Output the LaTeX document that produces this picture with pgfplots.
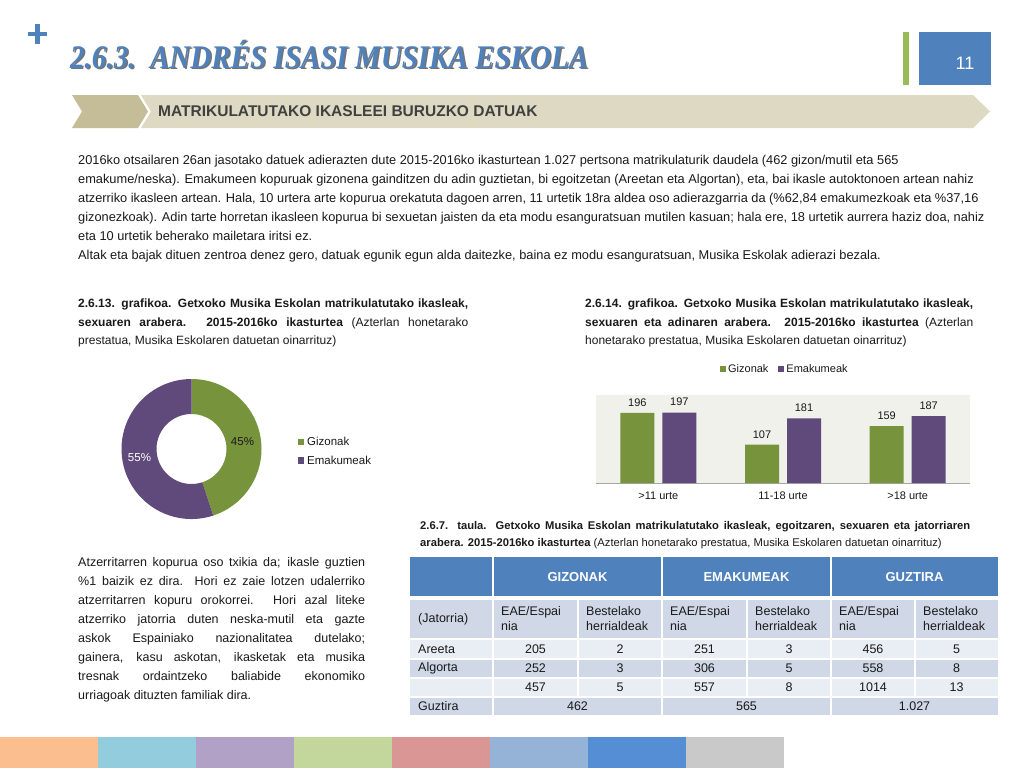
\documentclass[border=0pt]{standalone}
\usepackage{pgfplots}
\pgfplotsset{compat=1.18}
\usepackage{fontspec}
\setmainfont{Liberation Sans}
\newfontfamily\titlefont[FakeStretch=0.88]{Liberation Serif}
\definecolor{gz}{HTML}{77933C}
\definecolor{em}{HTML}{604A7B}
\definecolor{tblue}{HTML}{4F81BD}
\definecolor{lgreen}{HTML}{9BBB59}
\definecolor{chev}{HTML}{C4BD97}
\definecolor{hbar}{HTML}{DDD9C3}
\definecolor{chartbg}{HTML}{EFF1EA}
\definecolor{rowA}{HTML}{D0D8E8}
\definecolor{rowB}{HTML}{E9EDF4}
\definecolor{txt}{HTML}{1A1A1A}
\pgfplotsset{/pgf/number format/assume math mode=true}
\newcommand\fs[2]{\fontsize{#1}{#2}\selectfont}
\newcommand\titletext{\titlefont\bfseries\itshape\fs{33}{33}2.6.3.\ \ ANDRÉS ISASI MUSIKA ESKOLA}
\hyphenpenalty=10000
\exhyphenpenalty=10000
\tolerance=9999
\emergencystretch=20pt
\begin{document}
\begin{tikzpicture}[x=1pt,y=1pt]
\path[use as bounding box] (0,0) rectangle (1024,-768);
\fill[white] (0,0) rectangle (1024,-768);
% plus sign
\draw[tblue, line width=4.5pt] (28,-34) -- (47,-34) (37.5,-24) -- (37.5,-44);
% title
\node[anchor=base west, inner sep=0, text=black!55] at (71.5,-69.5) {\titletext};
\node[anchor=base west, inner sep=0, text=tblue] at (70,-68) {\titletext};
% page number box
\fill[lgreen] (903,-32) rectangle (909,-85);
\fill[tblue] (919,-32) rectangle (991,-85);
\node[text=white, font=\fs{18}{18}] at (965,-63) {11};
% chevron header
\fill[chev] (72,-95) -- (138,-95) -- (148,-111.5) -- (138,-128) -- (72,-128) -- (82,-111.5) -- cycle;
\fill[hbar] (141,-95) -- (973,-95) -- (990,-111.5) -- (973,-128) -- (141,-128) -- (151,-111.5) -- cycle;
\node[anchor=west, inner sep=0, text=black!75, font=\bfseries\fs{15.5}{15.5}] at (158,-111) {MATRIKULATUTAKO IKASLEEI BURUZKO DATUAK};
% intro paragraph
\begin{scope}[every node/.style={anchor=base west, inner sep=0, text=txt, font=\fs{12.8}{19}}]
\node at (78,-164) {2016ko otsailaren 26an jasotako datuek adierazten dute 2015-2016ko ikasturtean 1.027 pertsona matrikulaturik daudela (462 gizon/mutil eta 565};
\node at (78,-183) {emakume/neska). Emakumeen kopuruak gizonena gainditzen du adin guztietan, bi egoitzetan (Areetan eta Algortan), eta, bai ikasle autoktonoen artean nahiz};
\node at (78,-202) {atzerriko ikasleen artean. Hala, 10 urtera arte kopurua orekatuta dagoen arren, 11 urtetik 18ra aldea oso adierazgarria da (\%62,84 emakumezkoak eta \%37,16};
\node at (78,-221) {gizonezkoak). Adin tarte horretan ikasleen kopurua bi sexuetan jaisten da eta modu esanguratsuan mutilen kasuan; hala ere, 18 urtetik aurrera haziz doa, nahiz};
\node at (78,-240) {eta 10 urtetik beherako mailetara iritsi ez.};
\node at (78,-259) {Altak eta bajak dituen zentroa denez gero, datuak egunik egun alda daitezke, baina ez modu esanguratsuan, Musika Eskolak adierazi bezala.};
\end{scope}
% captions
\node[anchor=north west, inner sep=0, text width=390pt, align=justify, text=txt, font=\fs{12}{18.5}] at (78,-299)
 {{\bfseries 2.6.13. grafikoa. Getxoko Musika Eskolan matrikulatutako ikasleak,\linebreak sexuaren arabera. 2015-2016ko ikasturtea} (Azterlan honetarako\linebreak prestatua, Musika Eskolaren datuetan oinarrituz)};
\node[anchor=north west, inner sep=0, text width=388pt, align=justify, text=txt, font=\fs{12}{18.5}] at (585,-299)
 {{\bfseries 2.6.14. grafikoa. Getxoko Musika Eskolan matrikulatutako ikasleak,\linebreak sexuaren eta adinaren arabera. 2015-2016ko ikasturtea} (Azterlan\linebreak honetarako prestatua, Musika Eskolaren datuetan oinarrituz)};
\node[anchor=north west, inner sep=0, text width=550pt, align=justify, text=txt, font=\fs{11.2}{17}] at (420,-521)
 {{\bfseries 2.6.7. taula. Getxoko Musika Eskolan matrikulatutako ikasleak, egoitzaren, sexuaren eta jatorriaren\linebreak arabera. 2015-2016ko ikasturtea} (Azterlan honetarako prestatua, Musika Eskolaren datuetan oinarrituz)};
\node[anchor=north west, inner sep=0, text width=287pt, align=justify, text=txt, font=\fs{12.5}{19}] at (78,-557)
 {Atzerritarren kopurua oso txikia da; ikasle guztien\linebreak \%1 baizik ez dira. Hori ez zaie lotzen udalerriko\linebreak atzerritarren kopuru orokorrei. Hori azal liteke\linebreak atzerriko jatorria duten neska-mutil eta gazte\linebreak askok Espainiako nazionalitatea dutelako;\linebreak gainera, kasu askotan, ikasketak eta musika\linebreak tresnak ordaintzeko baliabide ekonomiko\linebreak urriagoak dituzten familiak dira.};
% donut chart
\pgfmathsetmacro{\ea}{90-360*(462/1027)}
\begin{axis}[at={(191.5pt,-449pt)}, anchor=center, hide axis, x=1pt, y=1pt,
  xmin=-70, xmax=70, ymin=-70, ymax=70, clip=false,
  legend cell align=left,
  legend style={at={(1.235,0.615)}, anchor=north west, draw=none, fill=none, font=\fs{11.5}{11.5}, text=txt,
    row sep=5pt, /tikz/every odd column/.append style={column sep=1pt}},
  legend image code/.code={\fill[#1] (0pt,-3pt) rectangle (6.5pt,3.5pt);}]
\addlegendimage{fill=gz, draw=none}\addlegendentry{Gizonak}
\addlegendimage{fill=em, draw=none}\addlegendentry{Emakumeak}
\fill[gz] (axis cs:0,70) arc[start angle=90, end angle=\ea, radius=70pt]
  -- (axis cs:{35*cos(\ea)},{35*sin(\ea)}) arc[start angle=\ea, end angle=90, radius=35pt] -- cycle;
\fill[em] (axis cs:{70*cos(\ea)},{70*sin(\ea)}) arc[start angle=\ea, end angle=-270, radius=70pt]
  -- (axis cs:0,35) arc[start angle=-270, end angle=\ea, radius=35pt] -- cycle;
\node[text=txt, font=\fs{11.5}{11.5}] at (axis cs:51,7) {45\%};
\node[text=white, font=\fs{11.5}{11.5}] at (axis cs:-52,-9) {55\%};
\end{axis}
% bar chart
\begin{axis}[at={(596pt,-483pt)}, anchor=south west, scale only axis, width=374pt, height=88pt,
  xmin=-0.5, xmax=2.5, ymin=0, ymax=246,
  ybar=8pt, bar width=34pt,
  axis background/.style={fill=chartbg},
  axis x line*=bottom, axis y line=none,
  x axis line style={draw=black!35, line width=0.8pt, -},
  xtick={0,1,2}, xticklabels={>11 urte, 11-18 urte, >18 urte},
  major tick length=0pt, ytick=\empty,
  xticklabel style={font=\fs{11}{11}, text=txt, yshift=-5pt},
  nodes near coords, nodes near coords style={font=\fs{11}{11}, text=txt, yshift=3pt},
  legend cell align=left,
  legend style={at={(0.505,1.295)}, anchor=center, draw=none, fill=none, font=\fs{11}{11}, text=txt,
    legend columns=2, /tikz/every even column/.append style={column sep=8pt}},
  legend image code/.code={\fill[#1] (0pt,-3pt) rectangle (6pt,3.5pt);}]
\addplot[fill=gz, draw=none] coordinates {(0,196) (1,107) (2,159)};
\addplot[fill=em, draw=none] coordinates {(0,197) (1,181) (2,187)};
\legend{Gizonak, Emakumeak}
\end{axis}
% table
\fill[tblue] (410,-557) rectangle (998,-596);
\fill[rowA] (410,-600) rectangle (998,-638);
\fill[rowB] (410,-640) rectangle (998,-657.5);
\fill[rowA] (410,-659.5) rectangle (998,-677);
\fill[rowB] (410,-679) rectangle (998,-696);
\fill[rowA] (410,-698) rectangle (998,-715);
\foreach \x in {493,662,831} \draw[white, line width=2pt] (\x,-555) -- (\x,-717);
\foreach \x in {578,747,915} \draw[white, line width=2pt] (\x,-598) -- (\x,-697);
\begin{scope}[every node/.style={inner sep=0, text=txt, font=\fs{12.5}{15}}]
\node[text=white, font=\bfseries\fs{13}{15}] at (577.5,-577) {GIZONAK};
\node[text=white, font=\bfseries\fs{13}{15}] at (746.5,-577) {EMAKUMEAK};
\node[text=white, font=\bfseries\fs{13}{15}] at (914.5,-577) {GUZTIRA};
\node[anchor=west] at (418,-619) {(Jatorria)};
\foreach \x in {501,670,839} \node[anchor=west, align=left] at (\x,-619) {EAE/Espai\\nia};
\foreach \x in {586,755,923} \node[anchor=west, align=left] at (\x,-619) {Bestelako\\herrialdeak};
\node[anchor=west] at (418,-649) {Areeta};
\node[anchor=west] at (418,-668.5) {Algorta};
\node[anchor=west] at (418,-706.5) {Guztira};
\foreach \v/\x in {205/535.5, 2/620, 251/704.5, 3/789, 456/873, 5/956.5} \node at (\x,-649) {\v};
\foreach \v/\x in {252/535.5, 3/620, 306/704.5, 5/789, 558/873, 8/956.5} \node at (\x,-668.5) {\v};
\foreach \v/\x in {457/535.5, 5/620, 557/704.5, 8/789, 1014/873, 13/956.5} \node at (\x,-687.5) {\v};
\foreach \v/\x in {462/577.5, 565/746.5, 1.027/914.5} \node at (\x,-706.5) {\v};
\end{scope}
% bottom colour strip
\foreach \c [count=\i from 0] in {FBBF8F,93CDDD,B2A1C7,C3D69B,D99694,95B3D7,558ED5,C9C9C9}
  {\definecolor{strip}{HTML}{\c}\fill[strip] (98*\i,-737) rectangle (98*\i+98,-768);}
\end{tikzpicture}
\end{document}
